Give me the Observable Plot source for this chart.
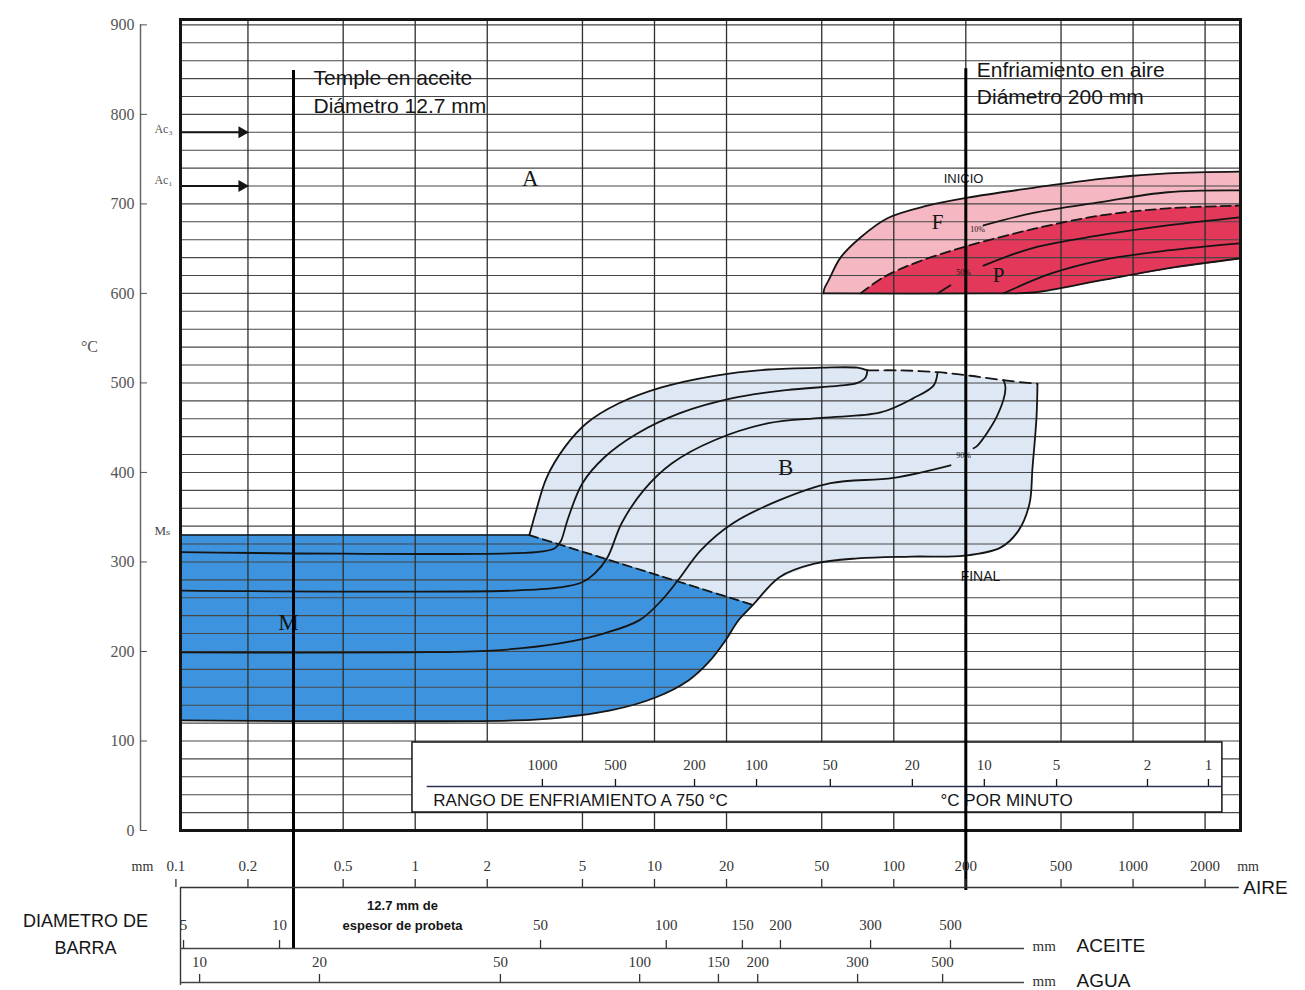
<!DOCTYPE html>
<html><head><meta charset="utf-8">
<script src="https://cdn.jsdelivr.net/npm/d3@7"></script>
<script src="https://cdn.jsdelivr.net/npm/@observablehq/plot@0.6"></script>
<style>body{margin:0;background:#fff}#chart svg{display:block}</style>
</head><body><div id="chart"></div>
<script>
// ---------------- data ----------------
// x = bar diameter cooled in air (mm, log scale); y = temperature (°C)
const tempTicks = [0, 100, 200, 300, 400, 500, 600, 700, 800, 900];
const gridTemps = d3.range(20, 901, 20);
const airTicks = [0.1, 0.2, 0.5, 1, 2, 5, 10, 20, 50, 100, 200, 500, 1000, 2000];
const airTickLabels = ["0.1", "0.2", "0.5", "1", "2", "5", "10", "20", "50", "100", "200", "500", "1000", "2000"];

// cooling rate at 750 °C (°C/min) and where it falls on the air-diameter scale
const rateLabels = ["1000", "500", "200", "100", "50", "20", "10", "5", "2", "1"];
const rateAtAir = [3.40, 6.87, 14.7, 26.7, 54.3, 119.6, 239, 479, 1149, 2066];
// oil- and water-quenched bar diameters (mm) and their air equivalents
const oilLabels = ["5", "10", "50", "100", "150", "200", "300", "500"];
const oilAtAir = [0.1076, 0.271, 3.34, 11.2, 23.3, 33.6, 80, 172.6];
const waterLabels = ["10", "20", "50", "100", "150", "200", "300", "500"];
const waterAtAir = [0.1256, 0.398, 2.27, 8.67, 18.5, 27.0, 70.6, 160];

const Ms = 330, Ac3 = 780, Ac1 = 720;
const oilQuenchDiam = 0.31;   // 12.7 mm oil quench, air equivalent
const airCoolDiam = 200;      // 200 mm air cooled

// Bainite / martensite
const bainiteStart = [[3.0,330],[3.20,357],[3.54,394],[4.21,428],[5.20,455],[7.07,477],[10.7,495],[17.8,508],[29.95,515],[49.9,517],[70.5,517],[77.6,514]];
const bainiteTop = [[77.6,514],[106.7,514],[152.3,512],[209.3,508],[287.4,503],[398.6,499]];
const finalUpper = [[398.6,499],[394.8,461],[379.9,405],[369.1,365],[332.1,335],[279.3,316],[197.5,307],[118.6,306],[70.5,304],[46.6,298],[33.3,283],[25.8,252]];
const finalLower = [[25.8,252],[22.4,234.6],[19.8,212.3],[16.8,187.7],[13.87,167.6],[10.1,148.6],[6.55,134.1],[4.05,126.2],[2.63,123],[0.105,123]];
const msToBainite = [[3.0,330],[25.8,252]];
const msLine = [[0.105,330],[3.0,330]];
const bainite2 = [[0.105,311],[3.21,311],[3.82,315],[4.01,321],[4.09,325],[4.37,350],[5.0,388],[6.18,417],[8.41,443],[12.7,466],[21.2,483],[35.6,492],[59.3,497],[70.5,500],[76.2,506],[77.6,514]];
const bainite3 = [[0.105,268],[2.6,268],[4.01,271.5],[4.96,277],[5.62,287],[6.36,305],[7.28,343],[9.0,380],[11.8,410],[17.8,436],[29.95,455],[49.9,461],[88,467],[120.9,483],[146.6,497],[152.3,511]];
const bainite4a = [[0.105,199],[0.885,199],[2.1,201],[4.01,209],[6.12,220],[8.66,235],[10.7,257],[12.7,281.5],[15.6,313],[21.2,343],[33.3,369],[54.4,388],[99.7,394],[172.6,408]];
const bainite4b = [[215.4,427],[223.8,430],[271.3,464],[293,494],[287.4,503]];

// Ferrite / pearlite
const ferriteStart = [[50.85,600],[51.3,605.5],[53.4,614.5],[59.9,640],[72.6,662.5],[94.1,684],[138.3,698],[203.3,707],[383.6,718],[730.9,728],[1393,734],[2780,736]];
const pearliteBase = [[50.85,600],[250,600],[383.6,601],[730.9,614.5],[1393,628],[2780,639]];
const pearliteStart = [[72.6,600],[90.6,618],[125.6,635],[203.3,653],[383.6,672],[731,687],[1393,695],[2780,698]];
const ferrite10 = [[237.1,676],[383.6,690],[731,702],[1393,713],[2780,715]];
const pearlite50 = [[237.1,631],[383.6,651],[731,665],[1393,676],[2780,685]];
const pearliteEnd = [[287.4,600],[451.8,622],[731,637],[1393,648],[2780,656]];
const pearliteTick = [[152.3,600],[172.6,609]];

// ---------------- layout ----------------
const SERIF = "'Liberation Serif','DejaVu Serif',serif";
const SANS = "'Liberation Sans',Arial,sans-serif";
const X_MIN = 0.1045, X_MAX = 2812, T_MAX = 906;
const BLACK = "#151515";
// rows of the nomogram below the chart, in the y (°C) scale units
const rowAirLabel = -40, rowAir = -63.7, rowOilLabel = -106, rowOil = -131.8, rowWaterLabel = -147.5, rowWater = -169.8;
const nomoEnd = 352;

const X = d => d[0], Y = d => d[1];
const pinkPoly = [...ferriteStart, ...pearliteBase.slice().reverse()];
const redPoly = [...pearliteStart, ...pearliteBase.filter(d => d[0] > pearliteStart[0][0]).reverse()];
const bainitePoly = [...bainiteStart, ...bainiteTop.slice(1), ...finalUpper.slice(1)];
const martensitePoly = [msLine[0], ...msToBainite, ...finalLower.slice(1)];
const finalCurve = [...finalUpper, ...finalLower.slice(1)];

const CR = "catmull-rom";
const fillPoly = (pts, color) => Plot.line(pts, {x: X, y: Y, fill: color, stroke: color, strokeWidth: 1, curve: "linear", clip: true});
const stroke = (pts, opts = {}) => Plot.line(pts, {x: X, y: Y, stroke: BLACK, strokeWidth: 1.8, curve: CR, clip: true, ...opts});
const label = (text, x, y, opts = {}) => Plot.text([text], {x: () => x, y: () => y, text: d => d, fill: BLACK, ...opts});

const rates = rateLabels.map((l, i) => ({l, x: rateAtAir[i]}));
const oils = oilLabels.map((l, i) => ({l, x: oilAtAir[i]}));
const waters = waterLabels.map((l, i) => ({l, x: waterAtAir[i]}));
const airs = airTickLabels.map((l, i) => ({l, x: airTicks[i]}));

const chart = Plot.plot({
  width: 1305, height: 990,
  marginLeft: 180, marginRight: 65, marginTop: 19, marginBottom: 160,
  x: {type: "log", domain: [X_MIN, X_MAX], axis: null},
  y: {domain: [0, T_MAX], axis: null},
  style: {background: "white", overflow: "visible"},
  marks: [
    // regions
    fillPoly(pinkPoly, "#f5b7c1"),
    fillPoly(redPoly, "#e3385a"),
    fillPoly(bainitePoly, "#dde8f4"),
    fillPoly(martensitePoly, "#3d93de"),
    // grid
    Plot.ruleY(gridTemps, {stroke: "#474747", strokeWidth: 1.1}),
    Plot.ruleX(airTicks.slice(1), {y1: 0, y2: T_MAX, stroke: "#2e2e2e", strokeWidth: 1.3}),
    // transformation curves
    stroke(msLine, {strokeWidth: 1.5, curve: "linear"}),
    stroke(msToBainite, {strokeDasharray: "9,5", curve: "linear"}),
    stroke(bainiteStart),
    stroke(bainiteTop, {strokeDasharray: "11,6"}),
    stroke(finalCurve),
    stroke(bainite2),
    stroke(bainite3),
    stroke(bainite4a),
    stroke(bainite4b),
    stroke(ferriteStart),
    stroke(pearliteBase),
    stroke(pearliteStart, {strokeDasharray: "10,5"}),
    stroke(ferrite10),
    stroke(pearlite50),
    stroke(pearliteEnd),
    stroke(pearliteTick),
    // Ac arrows
    Plot.ruleY([Ac3, Ac1], {x1: () => X_MIN, x2: () => 0.2, stroke: BLACK, strokeWidth: 2}),
    Plot.dot([Ac3, Ac1], {x: () => 0.2, y: d => d, dx: -6, symbol: "triangle", rotate: 90, r: 4.5, fill: BLACK, stroke: "none"}),
    // cooling rate box
    Plot.rect([0], {x1: () => 0.974, x2: () => 2362, y1: () => 20.1, y2: () => 98.3, fill: "white", stroke: BLACK, strokeWidth: 1.5}),
    Plot.ruleY([49.2], {x1: () => 1.122, x2: () => 2362, stroke: "#2a3450", strokeWidth: 1.6}),
    Plot.ruleX(rates, {x: "x", y1: () => 49.2, y2: () => 57, stroke: BLACK, strokeWidth: 1.3}),
    Plot.text(rates, {x: "x", y: () => 72.6, text: "l", fontFamily: SERIF, fontSize: 15, fill: "#333"}),
    label("RANGO DE ENFRIAMIENTO A 750 °C", 1.19, 33.5, {textAnchor: "start", fontFamily: SANS, fontSize: 17}),
    label("°C POR MINUTO", 156.8, 33.5, {textAnchor: "start", fontFamily: SANS, fontSize: 17}),
    // frame
    Plot.frame({stroke: BLACK, strokeWidth: 3}),
    // region labels
    label("A", 3.03, 728, {fontFamily: SERIF, fontSize: 23}),
    label("B", 35.3, 405, {fontFamily: SERIF, fontSize: 23}),
    label("M", 0.2954, 232, {fontFamily: SERIF, fontSize: 23}),
    label("F", 152.3, 679, {fontFamily: SERIF, fontSize: 21}),
    label("P", 273.9, 620, {fontFamily: SERIF, fontSize: 21}),
    label("INICIO", 195.6, 728, {fontFamily: SANS, fontSize: 13}),
    label("FINAL", 230.4, 284, {fontFamily: SANS, fontSize: 14}),
    label("90%", 195.6, 419, {fontFamily: SERIF, fontSize: 8}),
    label("50%", 195.6, 623, {fontFamily: SERIF, fontSize: 8}),
    label("10%", 223.8, 672, {fontFamily: SERIF, fontSize: 8}),
    // heavy reference lines
    Plot.ruleX([oilQuenchDiam], {y1: rowOil, y2: 849, stroke: "#000", strokeWidth: 3}),
    Plot.ruleX([airCoolDiam], {y1: -67, y2: 851, stroke: "#000", strokeWidth: 3}),
    label("Temple en aceite", oilQuenchDiam, 840, {dx: 20, textAnchor: "start", fontFamily: SANS, fontSize: 21}),
    label("Diámetro 12.7 mm", oilQuenchDiam, 809, {dx: 20, textAnchor: "start", fontFamily: SANS, fontSize: 21}),
    label("Enfriamiento en aire", airCoolDiam, 849, {dx: 11, textAnchor: "start", fontFamily: SANS, fontSize: 21}),
    label("Diámetro 200 mm", airCoolDiam, 819, {dx: 11, textAnchor: "start", fontFamily: SANS, fontSize: 21}),
    // y axis (offset left of the frame)
    Plot.ruleX([X_MIN], {y1: 0, y2: 900, dx: -40, stroke: "#666", strokeWidth: 1.5}),
    Plot.axisY(tempTicks, {anchor: "left", dx: -33, tickSize: 7, tickPadding: 6, fontFamily: SERIF, fontSize: 16, color: "#555", label: null}),
    label("°C", X_MIN, 540, {dx: -91, fontFamily: SERIF, fontSize: 16, fill: "#555"}),
    label("Ac₃", X_MIN, 784, {dx: -17, fontFamily: SERIF, fontSize: 12, fill: "#555"}),
    label("Ac₁", X_MIN, 726, {dx: -17, fontFamily: SERIF, fontSize: 12, fill: "#555"}),
    label("Mₛ", X_MIN, 335, {dx: -18, fontFamily: SERIF, fontSize: 13, fill: "#444"}),
    // nomogram: air
    Plot.ruleY([rowAir], {x1: () => X_MIN, x2: () => 2780, stroke: "#333", strokeWidth: 1.4}),
    Plot.ruleX([X_MIN], {y1: rowAir, y2: -173, stroke: "#333", strokeWidth: 1.4}),
    Plot.ruleX(airs, {x: "x", y1: () => rowAir, y2: () => rowAir + 9, stroke: "#333", strokeWidth: 1.3}),
    Plot.text(airs, {x: "x", y: () => rowAirLabel, text: "l", fontFamily: SERIF, fontSize: 15, fill: "#333"}),
    label("mm", X_MIN, rowAirLabel, {dx: -38, fontFamily: SERIF, fontSize: 14, fill: "#333"}),
    label("mm", 2000, rowAirLabel, {dx: 43, fontFamily: SERIF, fontSize: 14, fill: "#333"}),
    label("AIRE", 2780, rowAir, {dx: 4, textAnchor: "start", fontFamily: SANS, fontSize: 19}),
    // nomogram: oil
    Plot.ruleY([rowOil], {x1: () => X_MIN, x2: () => nomoEnd, stroke: "#444", strokeWidth: 1.4}),
    Plot.ruleX(oils, {x: "x", y1: () => rowOil, y2: () => rowOil + 9, stroke: "#333", strokeWidth: 1.3}),
    Plot.text(oils, {x: "x", y: () => rowOilLabel, text: "l", fontFamily: SERIF, fontSize: 15, fill: "#333"}),
    label("mm", nomoEnd, rowOil + 3, {dx: 8, textAnchor: "start", fontFamily: SERIF, fontSize: 15, fill: "#333"}),
    label("ACEITE", nomoEnd, rowOil + 3, {dx: 52, textAnchor: "start", fontFamily: SANS, fontSize: 19}),
    // nomogram: water
    Plot.ruleY([rowWater], {x1: () => X_MIN, x2: () => nomoEnd, stroke: "#444", strokeWidth: 1.4}),
    Plot.ruleX(waters, {x: "x", y1: () => rowWater, y2: () => rowWater + 9, stroke: "#333", strokeWidth: 1.3}),
    Plot.text(waters, {x: "x", y: () => rowWaterLabel, text: "l", fontFamily: SERIF, fontSize: 15, fill: "#333"}),
    label("mm", nomoEnd, rowWater + 2, {dx: 8, textAnchor: "start", fontFamily: SERIF, fontSize: 15, fill: "#333"}),
    label("AGUA", nomoEnd, rowWater + 2, {dx: 52, textAnchor: "start", fontFamily: SANS, fontSize: 19}),
    // nomogram annotations
    label("12.7 mm de", 0.885, -83.8, {fontFamily: SANS, fontSize: 13, fontWeight: "bold"}),
    label("espesor de probeta", 0.885, -106, {fontFamily: SANS, fontSize: 13, fontWeight: "bold"}),
    label("DIAMETRO DE", X_MIN, -101.7, {dx: -95, fontFamily: SANS, fontSize: 18}),
    label("BARRA", X_MIN, -131.8, {dx: -95, fontFamily: SANS, fontSize: 18})
  ]
});
document.getElementById("chart").appendChild(chart);
</script></body></html>
